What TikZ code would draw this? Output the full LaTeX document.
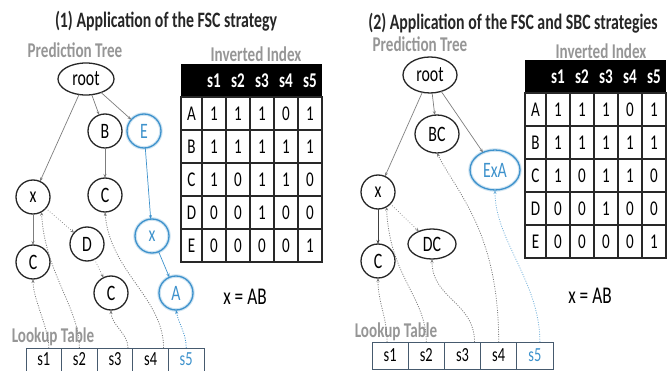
\documentclass[tikz,border=0pt]{standalone}
\usepackage{fontspec}
\setmainfont[FakeStretch=0.72]{Carlito}
\usetikzlibrary{shapes,arrows.meta}

\definecolor{treeblue}{RGB}{62,146,204}
\definecolor{labelgray}{RGB}{150,150,150}
\definecolor{edgegray}{RGB}{125,125,125}
\definecolor{tablegrid}{RGB}{40,40,40}
\definecolor{lookupframe}{RGB}{70,90,110}

\begin{document}
\begin{tikzpicture}[x=1pt,y=-1pt]
\tikzstyle{every node}=[inner sep=0pt,outer sep=0pt]
\tikzstyle{heading}=[font=\fontsize{22}{24}\selectfont\bfseries,text=black!85]
\tikzstyle{caption}=[font=\fontsize{21}{23}\selectfont\bfseries,text=labelgray]
\tikzstyle{item}=[circle,draw=black!85,line width=1.3pt,minimum size=34pt,font=\fontsize{22}{24}\selectfont]
\tikzstyle{oval}=[ellipse,draw=black!85,line width=1.3pt,font=\fontsize{22}{24}\selectfont]
\tikzstyle{hit}=[draw=treeblue,text=treeblue,preaction={draw=treeblue!25,line width=3.5pt}]
\tikzstyle{edge}=[draw=edgegray,line width=0.7pt,-{Stealth[length=4pt,width=3pt]}]
\tikzstyle{link}=[edge,line width=0.8pt,dash pattern=on 1pt off 1.4pt]
\tikzstyle{cell}=[font=\fontsize{21}{23}\selectfont]
\tikzstyle{slot}=[draw=lookupframe,line width=0.9pt,font=\fontsize{20}{22}\selectfont]
\useasboundingbox (0,0) rectangle (669,371);

\node[heading] (title1) at (166,21) {(1) Application of the FSC strategy};
\node[caption] (tree1) at (75,50) {Prediction Tree};
\node[caption] (index1) at (256,54) {Inverted Index};
\node[heading] (title2) at (513,23) {(2) Application of the FSC and SBC strategies};
\node[caption] (tree2) at (420,44) {Prediction Tree};
\node[caption] (index2) at (601,51) {Inverted Index};

\foreach \t/\ox/\oy in {L/181/64,R/525/60} {
  \fill[black] (\ox,\oy) rectangle +(141,33);
  \draw[tablegrid,line width=1.3pt] (\ox,\oy+33) rectangle +(141,165);
  \foreach \k in {2,...,5}
    \draw[tablegrid,line width=1.3pt] (\ox,\oy+33*\k) -- +(141,0);
  \foreach \k in {0,...,4}
    \draw[tablegrid,line width=1.3pt] (\ox+21+24*\k,\oy+33) -- +(0,165);
  \foreach \s [count=\i] in {s1,s2,s3,s4,s5}
    \node[cell,font=\fontsize{21}{23}\selectfont\bfseries,text=white] (\t-h\i) at (\ox+9+24*\i,\oy+17) {\s};
  \foreach \r/\va/\vb/\vc/\vd/\ve [count=\j] in {A/1/1/1/0/1,B/1/1/1/1/1,C/1/0/1/1/0,D/0/0/1/0/0,E/0/0/0/0/1} {
    \node[cell] (\t-\r) at (\ox+10.5,\oy+33*\j+16.5) {\r};
    \foreach \v [count=\i] in {\va,\vb,\vc,\vd,\ve}
      \node[cell] (\t-\r\i) at (\ox+9+24*\i,\oy+33*\j+16.5) {\v};
  }
}

\node[oval,minimum width=56pt,minimum height=32pt] (root1) at (86,79) {root};
\node[item] (b1) at (105,131) {B};
\node[item,hit] (e1) at (144,131) {E};
\node[item] (x1) at (33,197) {x};
\node[item] (c1) at (105,195) {C};
\node[item] (c2) at (33,262) {C};
\node[item] (d1) at (87,244) {D};
\node[item] (c3) at (111,293) {C};
\node[item,hit] (xb1) at (152,236) {x};
\node[item,hit] (a1) at (176,293) {A};
\node[cell,font=\fontsize{24}{26}\selectfont] (eq1) at (245,297) {x = AB};
\node[caption] (lookup1) at (53,337) {Lookup Table};
\foreach \s/\c [count=\i] in {s1/black,s2/black,s3/black,s4/black,s5/treeblue}
  \node[slot,text=\c,minimum width=35.6pt,minimum height=23pt] (l\i) at (26+35.6*\i-17.8,359.5) {\s};

\draw[edge] (root1) -- (x1);
\draw[edge] (root1) -- (b1);
\draw[edge] (root1) -- (e1);
\draw[edge] (b1) -- (c1);
\draw[edge] (x1) -- (c2);
\draw[edge,dotted] (x1) -- (d1);
\draw[edge,dotted] (d1) -- (c3);
\draw[edge,treeblue] (e1) -- (xb1);
\draw[edge,treeblue] (xb1) -- (a1);
\draw[link] ([xshift=5pt]l1.north) .. controls +(0,-20) and +(0,20) .. (c2.south);
\draw[link] (l2.north) .. controls +(0,-40) and +(3,60) .. (x1.-60);
\draw[link] ([xshift=13pt]l3.north) .. controls +(0,-15) and +(0,15) .. (c3.south);
\draw[link] ([xshift=13pt]l4.north) .. controls +(0,-50) and +(5,60) .. (c1.south);
\draw[link,treeblue] (l5.north) .. controls +(0,-15) and +(3,15) .. (a1.south);

\node[oval,minimum width=54pt,minimum height=36pt] (root2) at (430,75) {root};
\node[oval,minimum width=44pt,minimum height=38pt] (bc2) at (437,134) {BC};
\node[oval,hit,minimum width=50pt,minimum height=40pt] (exa2) at (495,170) {ExA};
\node[item] (x2) at (378,192) {x};
\node[item] (c4) at (378,261) {C};
\node[oval,minimum width=48pt,minimum height=30pt] (dc2) at (432,244) {DC};
\node[cell,font=\fontsize{24}{26}\selectfont] (eq2) at (590,296) {x = AB};
\node[caption] (lookup2) at (396,332) {Lookup Table};
\foreach \s/\c [count=\i] in {s1/black,s2/black,s3/black,s4/black,s5/treeblue}
  \node[slot,text=\c,minimum width=36.2pt,minimum height=27pt] (r\i) at (372+36.2*\i-18.1,355.5) {\s};

\draw[edge] (root2) -- (x2);
\draw[edge] (root2) -- (bc2);
\draw[edge] (root2) -- (exa2);
\draw[edge,draw=black!75] (x2) -- (c4);
\draw[edge,dotted] (x2) -- (dc2);
\draw[link] ([xshift=-3pt]r1.north) .. controls +(0,-25) and +(0,25) .. (c4.south);
\draw[link] (r2.north) .. controls +(0,-45) and +(3,70) .. (x2.-60);
\draw[link] ([xshift=12pt]r3.north) .. controls +(0,-40) and +(0,40) .. (dc2.south);
\draw[link] (r4.north) .. controls +(0,-110) and +(20,40) .. (bc2.south);
\draw[link,treeblue!70] ([xshift=5pt]r5.north) .. controls +(0,-60) and +(0,50) .. (exa2.south);
\end{tikzpicture}
\end{document}
